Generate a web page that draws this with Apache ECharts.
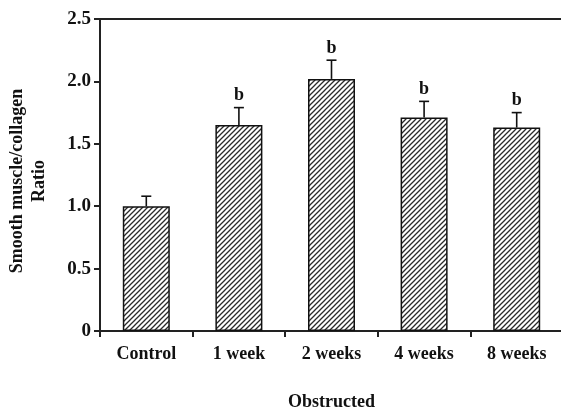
<!DOCTYPE html>
<html>
<head>
<meta charset="utf-8">
<script src="https://cdn.jsdelivr.net/npm/echarts@6/dist/echarts.min.js"></script>
<style>
html,body{margin:0;padding:0;background:#fff;}
#c{width:561px;height:410px;}
</style>
</head>
<body>
<div id="c"></div>
<script>
var categories = ['Control', '1 week', '2 weeks', '4 weeks', '8 weeks'];
var ratioValues = [1.00, 1.65, 2.02, 1.71, 1.63];
var errorTops = [1.08, 1.79, 2.17, 1.84, 1.75];
var sigLabels = ['', 'b', 'b', 'b', 'b'];
var yTicks = [0, 0.5, 1.0, 1.5, 2.0, 2.5];

function makeHatch() {
  var s = 5;
  var cv = document.createElement('canvas');
  cv.width = s; cv.height = s;
  var ctx = cv.getContext('2d');
  ctx.fillStyle = '#ffffff';
  ctx.fillRect(0, 0, s, s);
  ctx.strokeStyle = '#2a2a2a';
  ctx.lineWidth = 1.3;
  ctx.beginPath();
  ctx.moveTo(-1, s + 1); ctx.lineTo(s + 1, -1);
  ctx.moveTo(-1, 1); ctx.lineTo(1, -1);
  ctx.moveTo(s - 1, s + 1); ctx.lineTo(s + 1, s - 1);
  ctx.stroke();
  return cv;
}

var font = '"Liberation Serif", "Times New Roman", serif';
var chart = echarts.init(document.getElementById('c'));
var errData = categories.map(function (c, i) { return [i, ratioValues[i], errorTops[i], sigLabels[i]]; });

chart.setOption({
  animation: false,
  backgroundColor: '#fff',
  grid: { left: 100, top: 19, right: -2, bottom: 79, containLabel: false, outerBoundsMode: 'none' },
  xAxis: [{
    type: 'category',
    data: categories,
    position: 'bottom',
    axisLine: { lineStyle: { color: '#222', width: 2 } },
    axisTick: { show: true, length: 6, lineStyle: { color: '#222', width: 2 } },
    axisLabel: { color: '#111', fontFamily: font, fontWeight: 'bold', fontSize: 18, margin: 14 },
    name: 'Obstructed',
    nameLocation: 'middle',
    nameGap: 62,
    nameTextStyle: { color: '#111', fontFamily: font, fontWeight: 'bold', fontSize: 18 }
  }, {
    type: 'category',
    data: categories,
    position: 'top',
    axisLine: { lineStyle: { color: '#222', width: 2 } },
    axisTick: { show: false },
    axisLabel: { show: false }
  }],
  yAxis: {
    type: 'value',
    min: 0, max: 2.5, interval: 0.5,
    splitLine: { show: false },
    axisLine: { show: true, lineStyle: { color: '#222', width: 2 } },
    axisTick: { show: true, length: 6, lineStyle: { color: '#222', width: 2 } },
    axisLabel: {
      color: '#111', fontFamily: font, fontWeight: 'bold', fontSize: 19, margin: 9,
      formatter: function (v) { return v === 0 ? '0' : v.toFixed(1); }
    },
    name: 'Smooth muscle/collagen\nRatio',
    nameLocation: 'middle',
    nameGap: 50,
    nameRotate: 90,
    nameTextStyle: { color: '#111', fontFamily: font, fontWeight: 'bold', fontSize: 18, lineHeight: 22, align: 'center', padding: [0, 12, 0, 0] }
  },
  series: [{
    type: 'bar',
    data: ratioValues,
    barWidth: 47,
    itemStyle: {
      color: { image: makeHatch(), repeat: 'repeat' },
      borderColor: '#111',
      borderWidth: 1.5
    },
    z: 2
  }, {
    type: 'custom',
    data: errData,
    z: 3,
    renderItem: function (params, api) {
      var i = api.value(0);
      var p0 = api.coord([i, api.value(1)]);
      var p1 = api.coord([i, api.value(2)]);
      var lab = errData[params.dataIndex][3];
      var children = [
        { type: 'line', shape: { x1: p0[0], y1: p0[1], x2: p1[0], y2: p1[1] }, style: { stroke: '#111', lineWidth: 1.6 } },
        { type: 'line', shape: { x1: p1[0] - 5, y1: p1[1], x2: p1[0] + 5, y2: p1[1] }, style: { stroke: '#111', lineWidth: 1.6 } }
      ];
      if (lab) {
        children.push({ type: 'text', style: { x: p1[0], y: p1[1] - 3, text: lab, textAlign: 'center', textVerticalAlign: 'bottom', font: 'bold 18px ' + font, fill: '#111' } });
      }
      return { type: 'group', children: children };
    }
  }]
});
</script>
</body>
</html>
